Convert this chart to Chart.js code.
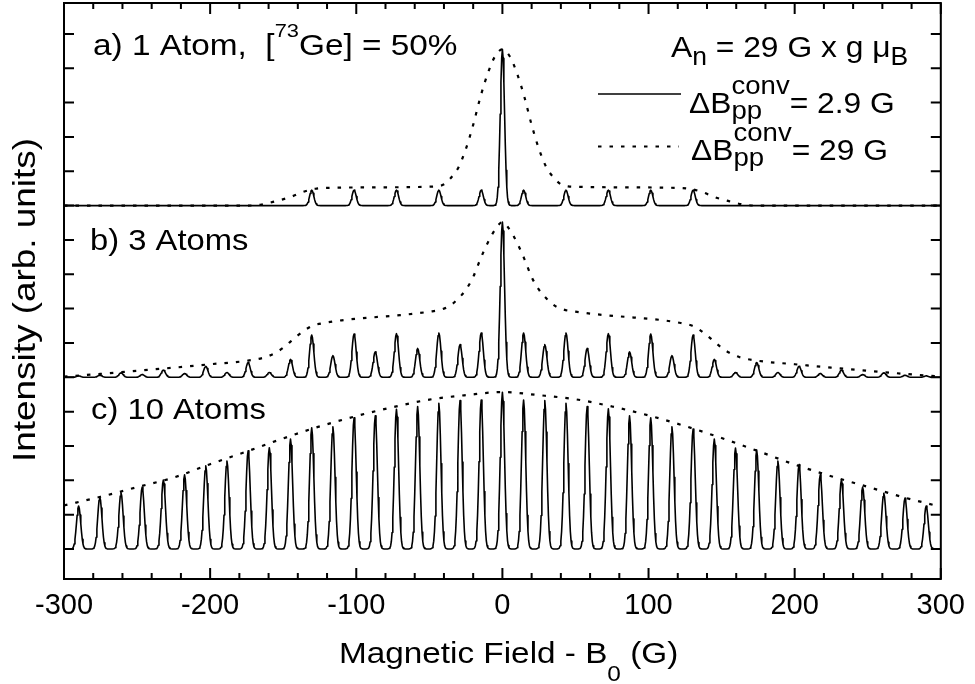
<!DOCTYPE html>
<html>
<head>
<meta charset="utf-8">
<script src="https://cdn.jsdelivr.net/npm/chart.js@4.4.1/dist/chart.umd.min.js"></script>
<style>
  html, body { margin: 0; padding: 0; background: #fff; }
</style>
</head>
<body>
<canvas id="spectrum" width="975" height="684"></canvas>
<script>
const FONT = '"Liberation Sans", Arial, Helvetica, sans-serif';

// a) single atom: central line plus the 73Ge multiplet
const fieldA = [-130.5, -101.5, -72.5, -43.5, -14.5, 0, 14.5, 43.5, 72.5, 101.5, 130.5];
const heightA = [0.45, 0.45, 0.45, 0.45, 0.45, 4.55, 0.45, 0.45, 0.45, 0.45, 0.45];

// b) and c) lines sit on the same 14.5 G grid
const fieldBC = [-290, -275.5, -261, -246.5, -232, -217.5, -203, -188.5, -174, -159.5,
  -145, -130.5, -116, -101.5, -87, -72.5, -58, -43.5, -29, -14.5, 0,
  14.5, 29, 43.5, 58, 72.5, 87, 101.5, 116, 130.5, 145,
  159.5, 174, 188.5, 203, 217.5, 232, 246.5, 261, 275.5, 290];
const heightB = [0.04, 0.06, 0.13, 0.08, 0.21, 0.11, 0.32, 0.14, 0.43, 0.14,
  0.52, 1.23, 0.63, 1.26, 0.74, 1.27, 0.84, 1.29, 0.95, 1.29, 4.52,
  1.29, 0.95, 1.29, 0.84, 1.27, 0.74, 1.26, 0.63, 1.23, 0.52,
  0.14, 0.43, 0.14, 0.32, 0.11, 0.21, 0.08, 0.13, 0.06, 0.04];
const heightC = [1.25, 1.51, 1.64, 1.80, 2.01, 2.16, 2.42, 2.56, 2.86, 2.95,
  3.20, 3.53, 3.56, 3.82, 3.88, 4.07, 4.15, 4.24, 4.32, 4.34, 4.56,
  4.34, 4.32, 4.24, 4.15, 4.08, 3.88, 3.82, 3.56, 3.49, 3.20,
  2.94, 2.88, 2.56, 2.46, 2.16, 2.01, 1.80, 1.62, 1.48, 1.25];

// broad (29 G) spectra, sampled along the field axis
const broadXA = [-300, -175, -165, -155, -145, -137, -128, -115, -90, -60, -50, -45, -40, -35, -30, -25, -20, -15, -10, -5,
  0, 5, 10, 15, 20, 25, 30, 35, 40, 45, 50, 60, 90, 115, 128, 137, 145, 155, 165, 175, 300];
const broadYA = [0, 0, 0.03, 0.13, 0.25, 0.39, 0.49, 0.52, 0.53, 0.54, 0.55, 0.56, 0.62, 0.82, 1.12, 1.65, 2.35, 3.17, 3.85, 4.35,
  4.55, 4.35, 3.85, 3.17, 2.35, 1.65, 1.12, 0.82, 0.62, 0.56, 0.55, 0.54, 0.53, 0.52, 0.49, 0.39, 0.25, 0.13, 0.03, 0, 0];

const broadXB = [-300, -275, -250, -225, -200, -175, -162, -155, -150, -145, -140, -135, -130, -122, -110, -90, -70, -50, -42, -36, -30, -25, -20, -15, -10, -5,
  0, 5, 10, 15, 20, 25, 30, 36, 42, 50, 70, 90, 110, 122, 130, 135, 140, 145, 150, 155, 162, 175, 200, 225, 250, 275, 300];
const broadYB = [0.02, 0.10, 0.19, 0.28, 0.38, 0.48, 0.59, 0.72, 0.86, 1.04, 1.22, 1.38, 1.50, 1.58, 1.66, 1.74, 1.81, 1.91, 1.97, 2.08, 2.30, 2.55, 2.92, 3.45, 3.92, 4.30,
  4.52, 4.30, 3.92, 3.45, 2.92, 2.55, 2.30, 2.08, 1.97, 1.91, 1.81, 1.74, 1.66, 1.58, 1.50, 1.38, 1.22, 1.04, 0.86, 0.72, 0.59, 0.48, 0.38, 0.28, 0.19, 0.10, 0.02];

const broadXC = [-300, -275, -250, -225, -200, -175, -150, -125, -100, -75, -50, -25, 0,
  25, 50, 75, 100, 125, 150, 175, 200, 225, 250, 275, 300];
const broadYC = [1.27, 1.52, 1.80, 2.08, 2.47, 2.84, 3.22, 3.57, 3.87, 4.13, 4.35, 4.48, 4.57,
  4.48, 4.36, 4.15, 3.89, 3.58, 3.23, 2.85, 2.46, 2.12, 1.81, 1.50, 1.23];

// vertical offsets of the three stacked spectra
const OFFSET_A = 10, OFFSET_B = 5, OFFSET_C = 0;

// single narrow line (2.9 G peak-to-peak), relative to its maximum
const profileDx = [-6, -5, -4.5, -4, -3.5, -3, -2.5, -2, -1.5, -1, -0.5, 0, 0.5, 1, 1.5, 2, 2.5, 3, 3.5, 4, 4.5, 5, 6];
const profileY = [0, 0.003, 0.008, 0.022, 0.054, 0.118, 0.226, 0.386, 0.586, 0.788, 0.942, 1,
  0.942, 0.788, 0.586, 0.386, 0.226, 0.118, 0.054, 0.022, 0.008, 0.003, 0];

function narrowTrace(fields, heights, offset) {
  const pts = [{ x: -300, y: offset }];
  fields.forEach((f, i) => {
    profileDx.forEach((d, j) => pts.push({ x: f + d, y: offset + heights[i] * profileY[j] }));
  });
  pts.push({ x: 300, y: offset });
  return pts;
}

function broadTrace(xs, ys, offset) {
  return xs.map((x, i) => ({ x: x, y: offset + ys[i] }));
}

const DOTS = [3.5, 8];

function solid(data) {
  return { data: data, borderColor: '#000', borderWidth: 1.6, borderJoinStyle: 'round',
    pointRadius: 0, tension: 0 };
}
function dotted(data) {
  return { data: data, borderColor: '#000', borderWidth: 2.2, borderDash: DOTS, pointRadius: 0,
    borderJoinStyle: 'round', cubicInterpolationMode: 'monotone' };
}

// text with super/subscripts; parts = [text, size, dy, stacked]
function drawParts(ctx, x, y, parts, sx, angle) {
  ctx.save();
  ctx.translate(x, y);
  if (angle) ctx.rotate(angle);
  ctx.scale(sx, 1);
  ctx.fillStyle = '#000';
  ctx.textAlign = 'left';
  ctx.textBaseline = 'alphabetic';
  let cx = 0, stacked = 0;
  parts.forEach(p => {
    ctx.font = p[1] + 'px ' + FONT;
    const w = ctx.measureText(p[0]).width;
    if (p[3]) {
      ctx.fillText(p[0], cx, p[2]);
      stacked = Math.max(stacked, w);
      return;
    }
    cx += stacked;
    stacked = 0;
    ctx.fillText(p[0], cx, p[2]);
    cx += w;
  });
  ctx.restore();
}

const frame = {
  id: 'frame',
  afterDraw(chart) {
    const { ctx, chartArea: a, scales: { x, y } } = chart;
    ctx.save();
    ctx.strokeStyle = '#000';
    ctx.lineWidth = 2;
    ctx.beginPath();
    for (let v = x.min; v <= x.max; v += 20) {
      const px = x.getPixelForValue(v);
      const len = v % 100 === 0 ? 11 : 6;
      ctx.moveTo(px, a.bottom); ctx.lineTo(px, a.bottom - len);
      ctx.moveTo(px, a.top); ctx.lineTo(px, a.top + len);
    }
    y.ticks.filter(t => Number.isInteger(t.value)).forEach(t => {
      const py = y.getPixelForValue(t.value);
      ctx.moveTo(a.left, py); ctx.lineTo(a.left + 10, py);
      ctx.moveTo(a.right, py); ctx.lineTo(a.right - 10, py);
    });
    ctx.stroke();
    ctx.strokeRect(a.left, a.top, a.right - a.left, a.bottom - a.top);

    // legend samples
    ctx.lineWidth = 1.6;
    ctx.beginPath();
    ctx.moveTo(598, 94); ctx.lineTo(681, 94);
    ctx.stroke();
    ctx.lineWidth = 2.2;
    ctx.setLineDash(DOTS);
    ctx.beginPath();
    ctx.moveTo(598, 146.5); ctx.lineTo(679, 146.5);
    ctx.stroke();
    ctx.restore();

    drawParts(ctx, 93, 55, [['a) 1 Atom,  [', 29, 0], ['73', 19, -18], ['Ge] = 50%', 29, 0]], 1.15);
    drawParts(ctx, 90, 250, [['b) 3 Atoms', 29, 0]], 1.13);
    drawParts(ctx, 91, 419, [['c) 10 Atoms', 29, 0]], 1.13);

    drawParts(ctx, 671, 56.5, [['A', 30, 0], ['n', 25, 8], [' = 29 G x g \u03bc', 30, 0], ['B', 25, 8]], 1.06);
    drawParts(ctx, 689, 113, [['\u0394B', 30, 0], ['conv', 26, -19, true], ['pp', 26, 6, true], ['= 2.9 G', 30, 0]], 1.06);
    drawParts(ctx, 691, 159.5, [['\u0394B', 30, 0], ['conv', 26, -19, true], ['pp', 26, 6, true], ['= 29 G', 30, 0]], 1.06);

    drawParts(ctx, 339, 662.5, [['Magnetic Field - B', 30, 0], ['0', 22, 18], [' (G)', 30, 0]], 1.11);
    drawParts(ctx, 35, 462, [['Intensity (arb. units)', 31, 0]], 1.19, -Math.PI / 2);
  }
};

new Chart(document.getElementById('spectrum'), {
  type: 'line',
  data: {
    datasets: [
      dotted(broadTrace(broadXA, broadYA, OFFSET_A)),
      dotted(broadTrace(broadXB, broadYB, OFFSET_B)),
      dotted(broadTrace(broadXC, broadYC, OFFSET_C)),
      solid(narrowTrace(fieldA, heightA, OFFSET_A)),
      solid(narrowTrace(fieldBC, heightB, OFFSET_B)),
      solid(narrowTrace(fieldBC, heightC, OFFSET_C))
    ]
  },
  options: {
    responsive: false,
    animation: false,
    devicePixelRatio: 1,
    layout: { padding: { left: 0, right: 31, top: 3, bottom: 0 }, autoPadding: false },
    plugins: { legend: { display: false }, tooltip: { enabled: false } },
    scales: {
      x: {
        type: 'linear', min: -300, max: 300,
        ticks: { stepSize: 100, color: '#000', font: { family: FONT, size: 29 }, padding: 10,
          maxRotation: 0, autoSkip: false, includeBounds: false },
        grid: { display: false, drawTicks: false },
        border: { display: false },
        afterFit(s) { s.height = 105; }
      },
      y: {
        type: 'linear', min: -0.874, max: 15.9,
        ticks: { display: false, stepSize: 1, includeBounds: false },
        grid: { display: false, drawTicks: false },
        border: { display: false },
        afterFit(s) { s.width = 64; }
      }
    }
  },
  plugins: [frame]
});
</script>
</body>
</html>
